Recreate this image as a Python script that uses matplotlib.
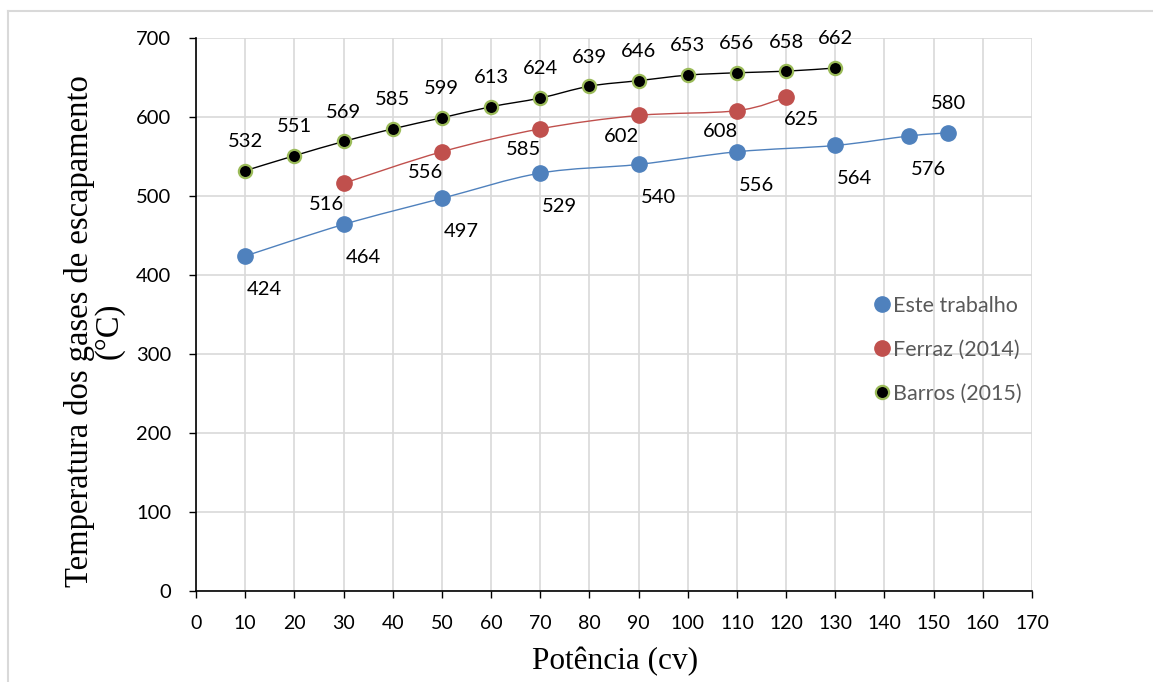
import matplotlib
matplotlib.use("Agg")
import matplotlib.pyplot as plt
import numpy as np
from matplotlib.path import Path
from matplotlib.patches import PathPatch
from matplotlib.lines import Line2D

# ---- data ----
este_x = [10, 30, 50, 70, 90, 110, 130, 145, 153]
este_y = [424, 464, 497, 529, 540, 556, 564, 576, 580]
ferraz_x = [30, 50, 70, 90, 110, 120]
ferraz_y = [516, 556, 585, 602, 608, 625]
barros_x = [10, 20, 30, 40, 50, 60, 70, 80, 90, 100, 110, 120, 130]
barros_y = [532, 551, 569, 585, 599, 613, 624, 639, 646, 653, 656, 658, 662]
series_names = ["Este trabalho", "Ferraz (2014)", "Barros (2015)"]
x_ticks = list(range(0, 171, 10))
y_ticks = list(range(0, 701, 100))

BLUE = "#4F81BD"
RED = "#C0504D"
GREEN = "#9BBB59"

NUM_FONT = "Lato"
SERIF = "Liberation Serif"

W, H = 1153, 682
fig = plt.figure(figsize=(W/100, H/100), dpi=100)
ax = fig.add_axes([196/W, 1-591/H, (1032-196)/W, (591-38)/H])

# outer frame lines
fig.add_artist(Line2D([8/W, 1.0], [1-11/H, 1-11/H], transform=fig.transFigure, color="#D9D9D9", lw=1.5))
fig.add_artist(Line2D([8/W, 8/W], [0, 1-11/H], transform=fig.transFigure, color="#D9D9D9", lw=1.5))


def smooth_path(xs, ys, t=1/6):
    pts = np.column_stack([np.asarray(xs, float), np.asarray(ys, float)])
    n = len(pts)
    verts = [pts[0]]
    codes = [Path.MOVETO]
    for i in range(n - 1):
        p0 = pts[i - 1] if i > 0 else pts[i]
        p1 = pts[i]
        p2 = pts[i + 1]
        p3 = pts[i + 2] if i + 2 < n else pts[i + 1]
        verts += [p1 + (p2 - p0) * t, p2 - (p3 - p1) * t, p2]
        codes += [Path.CURVE4] * 3
    return Path(verts, codes)


for xs, ys, col in [(este_x, este_y, BLUE), (ferraz_x, ferraz_y, RED), (barros_x, barros_y, "black")]:
    ax.add_patch(PathPatch(smooth_path(xs, ys), fill=False, edgecolor=col, lw=1.0, zorder=3))

MS = 11
ax.plot(este_x, este_y, "o", color=BLUE, ms=MS, mec=BLUE, zorder=4, ls="none")
ax.plot(ferraz_x, ferraz_y, "o", color=RED, ms=MS, mec=RED, zorder=4, ls="none")
ax.plot(barros_x, barros_y, "o", color="black", ms=9.5, mec=GREEN, mew=1.6, zorder=5, ls="none")

lbl_kw = dict(textcoords="offset points", fontsize=14.5, family=NUM_FONT, color="black",
              ha="center", va="center", zorder=6)

for x, y in zip(barros_x, barros_y):
    ax.annotate(str(y), (x, y), xytext=(0, 21), **lbl_kw)
for i, (x, y) in enumerate(zip(este_x, este_y)):
    off = (0, 21) if i == len(este_x) - 1 else (14, -24)
    ax.annotate(str(y), (x, y), xytext=off, **lbl_kw)
for i, (x, y) in enumerate(zip(ferraz_x, ferraz_y)):
    off = (11, -16) if i == len(ferraz_x) - 1 else (-12, -15)
    ax.annotate(str(y), (x, y), xytext=off, **lbl_kw)

ax.set_xlim(0, 170)
ax.set_ylim(0, 700)
ax.set_xticks(x_ticks)
ax.set_yticks(y_ticks)
ax.set_xticklabels([str(v) for v in x_ticks], family=NUM_FONT, fontsize=14)
ax.set_yticklabels([str(v) for v in y_ticks], family=NUM_FONT, fontsize=14.5)
ax.grid(True, color="#D9D9D9", lw=1.2, zorder=0)
ax.set_axisbelow(True)
for s in ["top", "right"]:
    ax.spines[s].set_visible(False)
for s in ["left", "bottom"]:
    ax.spines[s].set_color("black")
    ax.spines[s].set_linewidth(1.2)
ax.tick_params(axis="both", direction="out", length=5, width=1.0, color="black", labelcolor="black")
ax.tick_params(axis="x", pad=12)
ax.tick_params(axis="y", pad=13)

fig.text(615/W, 1-662/H, "Potência (cv)", family=SERIF, fontsize=22.5, ha="center", va="center")
fig.text(94/W, 1-331/H, "Temperatura dos gases de escapamento\n(°C)", family=SERIF, fontsize=23.5,
         ha="center", va="center", rotation=90, linespacing=0.95, multialignment="center")

handles = [
    Line2D([], [], marker="o", ls="none", color=BLUE, ms=MS),
    Line2D([], [], marker="o", ls="none", color=RED, ms=MS),
    Line2D([], [], marker="o", ls="none", color="black", mec=GREEN, mew=1.6, ms=9.5),
]
leg = ax.legend(handles, series_names, loc="upper left", bbox_to_anchor=(869/W, 1-296/H),
                bbox_transform=fig.transFigure, frameon=False, handletextpad=-0.1,
                labelspacing=1.1, prop={"family": NUM_FONT, "size": 15.5}, handlelength=1.2,
                borderpad=0, borderaxespad=0)
for t in leg.get_texts():
    t.set_color("#595959")

fig.savefig("out.png", dpi=100)
